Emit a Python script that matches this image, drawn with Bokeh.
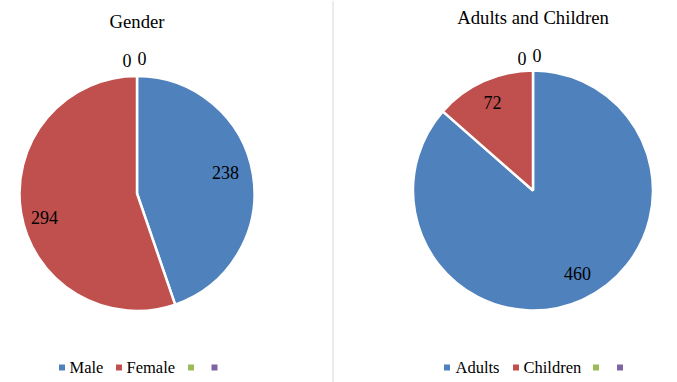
import numpy as np
from bokeh.plotting import figure
from bokeh.models import Range1d, ColumnDataSource
from bokeh.embed import file_html
from bokeh.resources import INLINE
from bokeh.core.properties import value

# ---- data ----
gender_title = "Gender"
gender_categories = ["Male", "Female", "", ""]
gender_values = [238, 294, 0, 0]

age_title = "Adults and Children"
age_categories = ["Adults", "Children", "", ""]
age_values = [460, 72, 0, 0]

colors = ["#4F81BD", "#C0504D", "#9BBB59", "#8064A2"]

# ---- layout (reference pixel coordinates) ----
PAGE_W, PAGE_H = 677, 382
W, H = PAGE_W, PAGE_H
FONT = value("Liberation Serif")


def Y(py):
    return PAGE_H - py


p = figure(width=W, height=H,
           x_range=Range1d(0, W), y_range=Range1d(0, H),
           output_backend="svg", toolbar_location=None, min_border=0,
           x_axis_location=None, y_axis_location=None)
p.grid.visible = False
p.outline_line_color = None
p.background_fill_color = "white"
p.border_fill_color = "white"


def pie(cx, cy, r, vals, cats, title, title_y, legend_sq_x, legend_tx_x,
        nudge, zero_dx, zero_dy, label_r=0.78):
    vals = np.asarray(vals, dtype=float)
    total = vals.sum()
    theta = np.concatenate([[0.0], np.cumsum(vals) / total * 2 * np.pi])
    t0, t1 = theta[:-1], theta[1:]
    nz = vals > 0
    src = ColumnDataSource(dict(
        start=(np.pi / 2 - t1)[nz], end=(np.pi / 2 - t0)[nz],
        color=[c for c, k in zip(colors, nz) if k]))
    p.wedge(x=cx, y=Y(cy), radius=r, start_angle="start", end_angle="end",
            direction="anticlock", fill_color="color", line_color="white",
            line_width=2.5, source=src)
    # data labels
    lx, ly, lt = [], [], []
    zi = 0
    for i, v in enumerate(vals):
        if v > 0:
            mid = (t0[i] + t1[i]) / 2
            lx.append(cx + label_r * r * np.sin(mid) + nudge[i][0])
            ly.append(Y(cy) + label_r * r * np.cos(mid) - nudge[i][1])
        else:
            lx.append(cx + zero_dx[zi])
            ly.append(Y(cy - r) + zero_dy[zi])
            zi += 1
        lt.append(str(int(v)))
    p.text(x=lx, y=ly, text=lt, text_font=FONT, text_font_size="18px",
           text_align="center", text_baseline="middle", text_color="black")
    # title
    p.text(x=[cx], y=[Y(title_y)], text=[title], text_font=FONT, text_font_size="18.7px",
           text_align="center", text_baseline="middle", text_color="black")
    # legend
    p.rect(x=legend_sq_x, y=[Y(367)] * len(legend_sq_x), width=6, height=6,
           fill_color=colors, line_color=None)
    p.text(x=legend_tx_x, y=[Y(366.5)] * len(legend_tx_x), text=cats[:len(legend_tx_x)],
           text_font=FONT, text_font_size="16.5px", text_align="left",
           text_baseline="middle", text_color="black")


pie(136.5, 193, 117.5, gender_values, gender_categories, gender_title, 21,
    [61.5, 118.5, 190.5, 214], [69, 126], [(-2, -6), (-2, 9)], [-10, 5], [16, 18])
pie(532.5, 190, 120, age_values, age_categories, age_title, 16.5,
    [446.5, 515.5, 595.5, 619.5], [455, 523], [(6, -2), (-2, -3)], [-11, 4], [12, 15])

# divider between the two charts
p.segment(x0=[332.5], y0=[Y(0)], x1=[332.5], y1=[Y(PAGE_H)], line_color="#D9D9D9", line_width=1)

open("out.html", "w").write(file_html(p, INLINE))
